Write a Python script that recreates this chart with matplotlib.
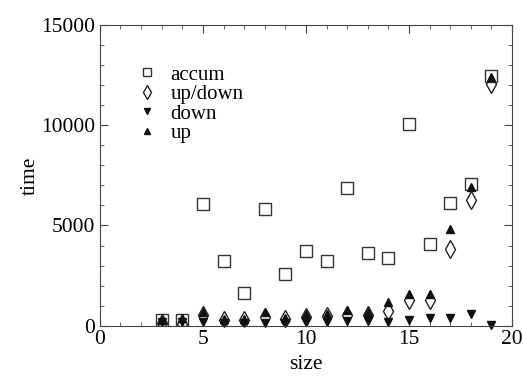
import numpy as np
import matplotlib
matplotlib.use("Agg")
import matplotlib.pyplot as plt
from matplotlib.ticker import MultipleLocator

plt.rcParams['font.family'] = ['Liberation Serif', 'DejaVu Serif']

size = [3, 4, 5, 6, 7, 8, 9, 10, 11, 12, 13, 14, 15, 16, 17, 18, 19]
accum = [300, 300, 6050, 3230, 1650, 5820, 2600, 3720, 3230, 6850, 3650, 3400, 10050, 4100, 6100, 7050, 12450]
updown = [130, 100, 535, 270, 270, 450, 330, 450, 480, 535, 535, 735, 1280, 1300, 3830, 6280, 12050]
down = [200, 200, 200, 120, 120, 120, 120, 170, 170, 230, 250, 200, 280, 400, 370, 570, 20]
up = [300, 400, 700, 320, 320, 700, 370, 600, 600, 780, 670, 1170, 1570, 1570, 4830, 6900, 12400]

fig = plt.figure(figsize=(5.23, 3.76), dpi=100)
ax = fig.add_axes([0.191, 0.134, 0.788, 0.799])

ax.plot(size, accum, 's', ms=8, mfc='none', mec='#333333', mew=1.0, ls='none', label='accum')
ax.plot(size, updown, 'd', ms=9, mfc='none', mec='#222222', mew=1.0, ls='none', label='up/down')
ax.plot(size, down, 'v', ms=6, color='#111111', ls='none', label='down', clip_on=False)
ax.plot(size, up, '^', ms=6, color='#111111', ls='none', label='up')

ax.set_xlim(0, 20)
ax.set_ylim(0, 15000)
ax.xaxis.set_major_locator(MultipleLocator(5))
ax.xaxis.set_minor_locator(MultipleLocator(1))
ax.yaxis.set_major_locator(MultipleLocator(5000))
ax.yaxis.set_minor_locator(MultipleLocator(1000))
ax.tick_params(which='both', direction='in', top=True, right=True, labelsize=15.5, color='#444444')
ax.tick_params(which='major', length=6)
ax.tick_params(which='minor', length=3)
for s in ax.spines.values():
    s.set_color('#444444')

ax.set_xlabel('size', fontsize=15.5, labelpad=4)
ax.set_ylabel('time', fontsize=15.5, labelpad=1)

ax.legend(loc='upper left', bbox_to_anchor=(0.03, 0.93), frameon=False, fontsize=15,
          handletextpad=0.4, labelspacing=0.0, markerscale=0.8, handlelength=1.5)

plt.savefig('out.png', dpi=100)
